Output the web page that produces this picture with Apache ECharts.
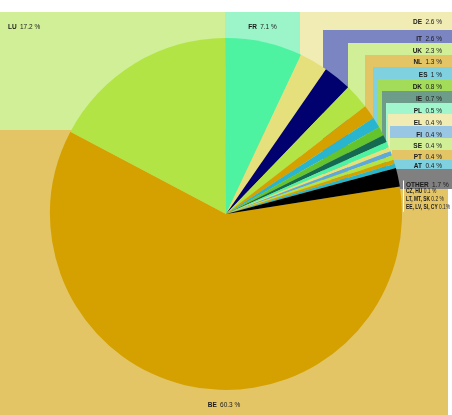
<!DOCTYPE html>
<html>
<head>
<meta charset="utf-8">
<script src="https://cdn.jsdelivr.net/npm/echarts@6/dist/echarts.min.js"></script>
<style>
  html, body { margin: 0; padding: 0; background: #fff; }
  #share { width: 452px; height: 415px; }
</style>
</head>
<body>
<div id="share"></div>
<script>
  // shares by country, in drawing order (clockwise from BE)
  const countries = ['BE', 'LU', 'FR', 'DE', 'IT', 'UK', 'NL', 'ES', 'DK', 'IE', 'PL', 'EL', 'FI', 'SE', 'PT', 'AT', 'OTHER'];
  const shares = [60.3, 17.2, 7.1, 2.6, 2.6, 2.3, 1.3, 1, 0.8, 0.7, 0.5, 0.4, 0.4, 0.4, 0.4, 0.4, 1.7];
  // breakdown of OTHER
  const otherNames = ['CZ, HU', 'LT, MT, SK', 'EE, LV, SI, CY'];
  const otherShares = [0.1, 0.2, 0.1];

  const sliceColors = ['#d5a100', '#b1e444', '#4df3a1', '#e6e07c', '#00006e', '#b1e444', '#d5a100', '#29b5cd',
    '#64c42c', '#146a50', '#4df3a1', '#e6e07c', '#5ea9dc', '#b1e444', '#d5a100', '#29b5cd', '#000000'];
  const boxColors = ['#e3c566', '#d1ef97', '#9cf5c9', '#f0ecb3', '#7b85c2', '#d1ef97', '#e3c566', '#7fd1e0',
    '#a3dc59', '#6e9c8a', '#a1f6cd', '#f0ecb3', '#99c6e2', '#d1ef97', '#e3c566', '#7fd1e0', '#808080'];

  // label boxes: [left, top, right, bottom], text middle line, text side
  const boxRects = [
    [0, 130, 448, 430], [0, 12, 225, 130], [225, 12, 300, 130], [300, 12, 452, 180],
    [323, 30, 452, 180], [348, 43, 452, 180], [365, 55, 452, 180], [373, 67, 452, 180],
    [378, 79, 452, 180], [382, 91, 452, 180], [386, 103, 452, 180], [388, 114, 452, 180],
    [390, 126, 452, 180], [390, 138, 452, 180], [392, 150, 452, 180], [393, 160, 452, 180],
    [393, 169, 452, 189]
  ];
  const textMid = [403, 25, 25, 20, 37, 49, 60.5, 73, 85, 97, 109, 121, 133, 144.5, 155.5, 164.5, 183];
  const textSide = ['center', 'left', 'center', 'right', 'right', 'right', 'right', 'right', 'right',
    'right', 'right', 'right', 'right', 'right', 'right', 'right', 'left'];

  const FONT = "'Liberation Sans Narrow', 'Liberation Sans', sans-serif";
  const FS = 6.5;
  const LH = 8.4;
  const sideLeft = [0, 8, 0, 0, 0, 0, 0, 0, 0, 0, 0, 0, 0, 0, 0, 0, 10];
  const sideRight = 10;

  const rich = {
    n: { fontFamily: FONT, fontSize: FS, fontWeight: 'bold', color: '#1a1a1a', lineHeight: LH },
    v: { fontFamily: FONT, fontSize: FS, color: '#1a1a1a', lineHeight: LH },
    bar: { width: 1, height: LH, lineHeight: LH, backgroundColor: '#fff' },
    nb: { fontFamily: FONT, fontSize: FS, fontWeight: 'bold', color: '#1a1a1a', lineHeight: LH, padding: [0, 0, 0, 2] }
  };
  // same styles in zrender form, for the condensed OTHER breakdown
  const richSub = {
    bar: { width: 1.4, height: LH, lineHeight: LH, backgroundColor: '#fff' },
    sb: { fontFamily: FONT, fontSize: 7, fontWeight: 'bold', fill: '#1a1a1a', lineHeight: LH, padding: [0, 0, 0, 3] },
    sv: { fontFamily: FONT, fontSize: 7, fill: '#1a1a1a', lineHeight: LH }
  };

  function padTop(i) {
    return Math.max(0, textMid[i] - LH / 2 - boxRects[i][1]);
  }

  // bottom layer: transparent slices carrying the big label boxes
  const labelData = countries.map(function (c, i) {
    const pt = padTop(i);
    let pad = [pt, 0, 0, 0];
    if (textSide[i] === 'left') pad = [pt, 0, 0, sideLeft[i]];
    if (textSide[i] === 'right') pad = [pt, sideRight, 0, 0];
    return {
      name: c,
      value: shares[i],
      label: { padding: pad, backgroundColor: boxColors[i] }
    };
  });

  // top layer: the visible slices
  const sliceData = countries.map(function (c, i) {
    return { name: c, value: shares[i], itemStyle: { color: sliceColors[i] } };
  });

  const subText = otherNames.map(function (n, k) {
    const pct = k === otherNames.length - 1 ? otherShares[k] + '%' : otherShares[k] + ' %';
    return '{bar|}{sb|' + n + '} {sv|' + pct + '}';
  }).join('\n');

  const chart = echarts.init(document.getElementById('share'));
  chart.setOption({
    animation: false,
    backgroundColor: '#fff',
    graphic: [
      {
        type: 'text',
        x: 403,
        y: 186.5,
        scaleX: 0.7,
        z: 10,
        silent: true,
        style: { text: subText, rich: richSub, fontFamily: FONT, fontSize: 7, fill: '#1a1a1a' }
      }
    ],
    series: [
      {
        type: 'pie',
        z: 1,
        silent: true,
        center: [226, 214],
        radius: 176,
        startAngle: 9,
        avoidLabelOverlap: false,
        itemStyle: { color: 'rgba(0,0,0,0)', borderWidth: 0 },
        emphasis: { disabled: true },
        labelLine: { show: false },
        label: {
          show: true,
          position: 'outside',
          overflow: 'none',
          formatter: function (p) {
            const pre = p.name === 'OTHER' ? '{bar|}{nb|' : '{n|';
            return pre + p.name + '} {v|' + p.value + ' %}';
          },
          rich: rich
        },
        labelLayout: function (p) {
          const i = p.dataIndex;
          const b = boxRects[i];
          const pt = padTop(i);
          const w = b[2] - b[0];
          const h = b[3] - b[1] - pt;
          if (textSide[i] === 'left') {
            return { x: b[0], y: b[1], align: 'left', verticalAlign: 'top', width: w - sideLeft[i], height: h };
          }
          if (textSide[i] === 'right') {
            return { x: b[2], y: b[1], align: 'right', verticalAlign: 'top', width: w - sideRight, height: h };
          }
          return { x: (b[0] + b[2]) / 2, y: b[1], align: 'center', verticalAlign: 'top', width: w, height: h };
        },
        data: labelData
      },
      {
        type: 'pie',
        z: 2,
        silent: true,
        center: [226, 214],
        radius: 176,
        startAngle: 9,
        avoidLabelOverlap: false,
        itemStyle: { borderWidth: 0 },
        emphasis: { disabled: true },
        labelLine: { show: false },
        label: { show: false },
        data: sliceData
      }
    ]
  });
</script>
</body>
</html>
